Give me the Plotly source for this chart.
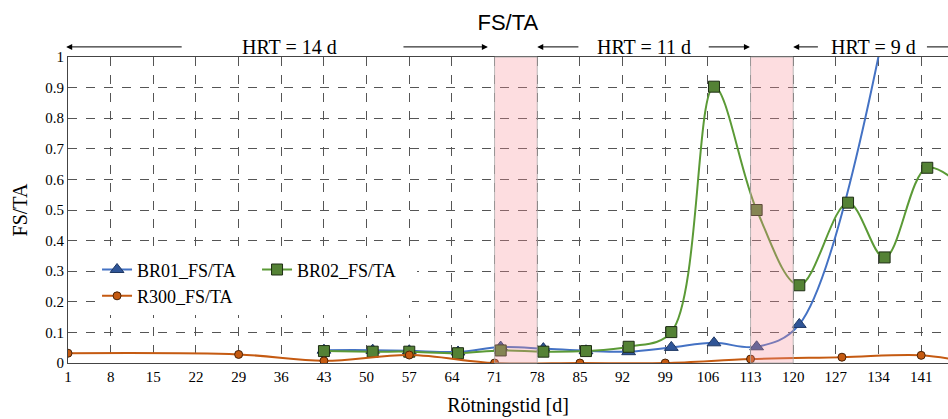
import plotly.graph_objects as go

# ---- data ----
br01_days = [43, 51, 57, 65, 72, 79, 86, 93, 100, 107, 114, 121, 135]
br01_vals = [0.042, 0.042, 0.040, 0.036, 0.052, 0.047, 0.040, 0.037, 0.051, 0.066, 0.053, 0.126, 1.10]

br02_days = [43, 51, 57, 65, 72, 79, 86, 93, 100, 107, 114, 121, 129, 135, 142, 149]
br02_vals = [0.039, 0.037, 0.037, 0.032, 0.041, 0.037, 0.039, 0.053, 0.101, 0.903, 0.500, 0.254, 0.524, 0.345, 0.638, 0.55]

r300_days = [1, 29, 43, 57, 71, 85, 99, 113, 128, 141, 148]
r300_vals = [0.032, 0.028, 0.007, 0.026, 0.0, 0.0, 0.0, 0.013, 0.019, 0.025, 0.005]

tick_days = list(range(1, 142, 7))
shade_periods = [(71, 78), (113, 120)]

hrt_labels = ["HRT = 14 d", "HRT = 11 d", "HRT = 9 d"]
hrt_label_days = [37.4, 95.5, 133.1]
# arrows: (head_day, tail_day)
hrt_arrows = [(0.7, 19.9), (69.9, 55.8), (78.0, 85.0), (112.9, 105.9), (120.0, 124.3), (151.0, 141.7)]

SERIF = "'Liberation Serif', 'Times New Roman', Tinos, 'DejaVu Serif', serif"

fig = go.Figure()

fig.add_trace(go.Scatter(
    x=br01_days, y=br01_vals, name="BR01_FS/TA", mode="lines+markers",
    line=dict(color="#4472C4", width=2, shape="spline", smoothing=1),
    marker=dict(symbol="triangle-up", size=12, color="#2F5597",
                line=dict(color="#1F3864", width=1)),
    legend="legend2"))
fig.add_trace(go.Scatter(
    x=br02_days, y=br02_vals, name="BR02_FS/TA", mode="lines+markers",
    line=dict(color="#5B9A36", width=2, shape="spline", smoothing=1),
    marker=dict(symbol="square", size=11, color="#548235",
                line=dict(color="#1E2E14", width=1)),
    legend="legend2"))
fig.add_trace(go.Scatter(
    x=r300_days, y=r300_vals, name="R300_FS/TA", mode="lines+markers",
    line=dict(color="#C55A11", width=2, shape="spline", smoothing=1),
    marker=dict(symbol="circle", size=8, color="#C55A11",
                line=dict(color="#4A2206", width=1)),
    legend="legend"))

for a, b in shade_periods:
    fig.add_shape(type="rect", xref="x", yref="paper", x0=a, x1=b, y0=0, y1=1,
                  fillcolor="rgba(248,141,151,0.3)",
                  line=dict(color="rgba(170,170,170,0.8)", width=1), layer="above")

for lab, d in zip(hrt_labels, hrt_label_days):
    fig.add_annotation(x=d, y=1.033, xref="x", yref="paper", text=lab, yanchor="middle",
                       showarrow=False, font=dict(family=SERIF, size=20, color="black"))

for head, tail in hrt_arrows:
    fig.add_annotation(x=head, y=1.033, xref="x", yref="paper", ax=tail, ay=0,
                       axref="x", ayref="pixel", text="", showarrow=True,
                       arrowhead=2, arrowsize=1.2, arrowwidth=1, arrowcolor="black")

fig.update_layout(
    width=948, height=419,
    margin=dict(l=68, r=0, t=57, b=56, autoexpand=False),
    paper_bgcolor="white", plot_bgcolor="white",
    title=dict(text="FS/TA", x=0.5357, xanchor="center", y=0.947, yanchor="middle",
               font=dict(family="Liberation Sans", size=22, color="black")),
    xaxis=dict(range=[1, 145.4], tickvals=tick_days, ticktext=[str(t) for t in tick_days],
               showgrid=True, gridcolor="#555", griddash="dash", gridwidth=1,
               showline=True, linecolor="#444", linewidth=1, mirror=True, automargin=False,
               zeroline=False, ticks="", tickfont=dict(family=SERIF, size=15, color="black"),
               title=dict(text="Rötningstid [d]", font=dict(family=SERIF, size=20, color="black"), standoff=13)),
    yaxis=dict(range=[0, 1], dtick=0.1, tickformat="~g", automargin=False,
               showgrid=True, gridcolor="#555", griddash="dash", gridwidth=1,
               showline=True, linecolor="#444", linewidth=1,
               zeroline=False, ticks="", tickfont=dict(family=SERIF, size=15, color="black"),
               title=dict(text="FS/TA", font=dict(family=SERIF, size=20, color="black"), standoff=12)),
    legend2=dict(orientation="h", x=0.033, y=0.365, xanchor="left", yanchor="top",
                 bgcolor="white", entrywidth=115, font=dict(family=SERIF, size=18, color="black"),
                 itemwidth=30),
    legend=dict(orientation="h", x=0.033, y=0.279, xanchor="left", yanchor="top",
                bgcolor="white", entrywidth=270, font=dict(family=SERIF, size=18, color="black"),
                itemwidth=30),
    showlegend=True,
)

fig.write_html("out.html", config={"displayModeBar": False},
               post_script="document.body.style.margin='0';document.body.style.padding='0';")
